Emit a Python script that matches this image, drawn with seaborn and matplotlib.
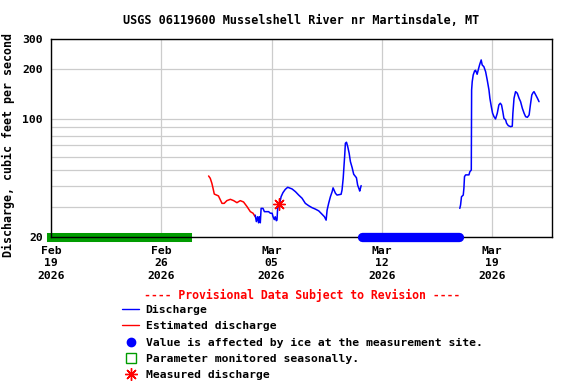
import pandas as pd
import seaborn as sns
import matplotlib.pyplot as plt
from matplotlib.lines import Line2D
from matplotlib.ticker import FixedLocator, NullFormatter

title = "USGS 06119600 Musselshell River nr Martinsdale, MT"

# estimated discharge (red)
est_times = ["2026-03-01 00:00", "2026-03-01 02:30", "2026-03-01 05:00", "2026-03-01 06:45",
             "2026-03-01 08:40", "2026-03-01 15:00", "2026-03-01 20:25", "2026-03-01 23:45",
             "2026-03-02 03:50", "2026-03-02 09:10", "2026-03-02 14:10", "2026-03-02 19:10",
             "2026-03-03 00:15", "2026-03-03 05:15", "2026-03-03 10:35", "2026-03-03 15:35",
             "2026-03-03 19:40", "2026-03-03 23:00"]
est_flow = [46.0, 44.6, 41.6, 38.9, 35.9, 35.0, 31.6, 31.6, 32.8, 33.4, 32.8, 31.9,
            32.8, 32.2, 30.2, 28.2, 27.6, 26.3]

# discharge, first stretch (blue)
q1_times = ["2026-03-03 23:00", "2026-03-04 00:45", "2026-03-04 02:40", "2026-03-04 04:05",
            "2026-03-04 05:15", "2026-03-04 06:45", "2026-03-04 08:00", "2026-03-04 10:50",
            "2026-03-04 13:00", "2026-03-04 19:25", "2026-03-04 22:05", "2026-03-05 00:45",
            "2026-03-05 02:10", "2026-03-05 04:05", "2026-03-05 05:30", "2026-03-05 07:10",
            "2026-03-05 08:10", "2026-03-05 09:10", "2026-03-05 12:15", "2026-03-05 14:25",
            "2026-03-05 17:15", "2026-03-05 20:50", "2026-03-06 00:30", "2026-03-06 07:10",
            "2026-03-06 12:15", "2026-03-06 17:15", "2026-03-06 22:20", "2026-03-07 03:20",
            "2026-03-07 08:25", "2026-03-07 13:25", "2026-03-07 18:40", "2026-03-07 23:45",
            "2026-03-08 04:50", "2026-03-08 08:25", "2026-03-08 11:00", "2026-03-08 12:30",
            "2026-03-08 14:50", "2026-03-08 17:30", "2026-03-08 20:10", "2026-03-08 21:35",
            "2026-03-09 01:10", "2026-03-09 03:35", "2026-03-09 09:50", "2026-03-09 11:15",
            "2026-03-09 13:00", "2026-03-09 15:20", "2026-03-09 16:20", "2026-03-09 18:00",
            "2026-03-09 19:55", "2026-03-09 22:05", "2026-03-10 00:00", "2026-03-10 02:40",
            "2026-03-10 05:00", "2026-03-10 09:10", "2026-03-10 11:00", "2026-03-10 13:10",
            "2026-03-10 14:10", "2026-03-10 16:20"]
q1_flow = [26.9, 24.6, 26.3, 24.2, 26.3, 24.2, 29.5, 29.5, 28.2, 28.2, 27.6, 27.6,
           26.3, 25.3, 26.3, 24.9, 25.1, 29.5, 31.6, 34.6, 36.6, 38.3, 39.4, 38.5,
           37.1, 35.4, 33.9, 31.6, 30.6, 29.8, 29.2, 28.5, 27.2, 26.3, 25.1, 28.8,
           31.6, 34.6, 37.1, 39.1, 36.3, 35.4, 35.8, 38.0, 44.6, 61.4, 72.1, 73.1,
           68.8, 62.8, 56.0, 51.5, 47.1, 44.9, 40.6, 38.5, 37.4, 40.3]

# discharge, second stretch (blue)
q2_times = ["2026-03-16 22:35", "2026-03-16 23:45", "2026-03-17 01:10", "2026-03-17 03:50",
            "2026-03-17 04:50", "2026-03-17 05:45", "2026-03-17 07:25", "2026-03-17 12:30",
            "2026-03-17 13:55", "2026-03-17 16:05", "2026-03-17 16:35", "2026-03-17 17:30",
            "2026-03-17 19:00", "2026-03-17 21:05", "2026-03-17 22:35", "2026-03-18 01:00",
            "2026-03-18 03:20", "2026-03-18 05:00", "2026-03-18 07:10", "2026-03-18 08:40",
            "2026-03-18 11:15", "2026-03-18 13:55", "2026-03-18 16:20", "2026-03-18 19:00",
            "2026-03-18 20:25", "2026-03-18 22:35", "2026-03-19 00:30", "2026-03-19 02:40",
            "2026-03-19 05:00", "2026-03-19 07:40", "2026-03-19 10:05", "2026-03-19 12:15",
            "2026-03-19 14:10", "2026-03-19 16:05", "2026-03-19 17:45", "2026-03-19 20:25",
            "2026-03-19 21:50", "2026-03-20 00:30", "2026-03-20 04:05", "2026-03-20 06:30",
            "2026-03-20 07:25", "2026-03-20 09:10", "2026-03-20 11:30", "2026-03-20 14:10",
            "2026-03-20 16:50", "2026-03-20 19:10", "2026-03-20 21:50", "2026-03-21 00:30",
            "2026-03-21 02:50", "2026-03-21 05:30", "2026-03-21 08:10", "2026-03-21 10:05",
            "2026-03-21 12:15", "2026-03-21 14:10", "2026-03-21 15:35", "2026-03-21 18:15",
            "2026-03-21 20:50", "2026-03-21 23:15"]
q2_flow = [29.5, 30.9, 34.6, 35.4, 38.9, 45.6, 46.7, 46.7, 48.8, 49.9, 149.7, 167.8,
           183.9, 194.3, 196.2, 185.7, 201.7, 213.1, 226.0, 211.0, 206.0, 192.3, 171.8, 149.7,
           133.6, 119.0, 108.8, 103.8, 100.6, 108.8, 121.9, 124.8, 121.9, 111.2, 101.5, 99.2,
           94.8, 91.7, 90.5, 91.1, 108.8, 133.6, 146.3, 143.1, 133.6, 127.5, 116.4, 108.8,
           103.8, 102.9, 106.3, 121.9, 139.8, 144.3, 146.3, 139.8, 133.6, 127.5]

meas_time = ["2026-03-05 10:50"]
meas_flow = [31.2]

# periods drawn along the bottom of the plot
ice_period = ["2026-03-10 17:00", "2026-03-16 22:00"]
season_period = ["2026-02-19 00:00", "2026-02-27 14:30"]

x_ticks = ["2026-02-19", "2026-02-26", "2026-03-05", "2026-03-12", "2026-03-19"]
x_labels = ["Feb\n19\n2026", "Feb\n26\n2026", "Mar\n05\n2026", "Mar\n12\n2026", "Mar\n19\n2026"]
y_ticks = [20, 100, 200, 300]
y_minor = [30, 40, 50, 60, 70, 80, 90]

BLUE = "#0000ff"
RED = "#ff0000"
GREEN = "#009c00"

sns.set_theme(style="white")
plt.rcParams["font.family"] = ["DejaVu Sans Mono"]
plt.rcParams["font.weight"] = "bold"
for key in ["text.color", "axes.labelcolor", "xtick.color", "ytick.color"]:
    plt.rcParams[key] = "black"

fig, ax = plt.subplots(figsize=(5.76, 3.84), dpi=100)
fig.subplots_adjust(left=51 / 576, right=552 / 576, top=1 - 39.3 / 384, bottom=1 - 236.7 / 384)

ax.set_yscale("log")

sns.lineplot(x=pd.to_datetime(est_times), y=est_flow, color=RED, lw=1.1, ax=ax)
sns.lineplot(x=pd.to_datetime(q1_times), y=q1_flow, color=BLUE, lw=1.1, ax=ax)
sns.lineplot(x=pd.to_datetime(q2_times), y=q2_flow, color=BLUE, lw=1.1, ax=ax)

# ice-affected and seasonal bands at the floor of the plot
sns.lineplot(x=pd.to_datetime(ice_period), y=[20, 20], color=BLUE, lw=6.7,
             solid_capstyle="round", clip_on=False, zorder=5, ax=ax)
sns.lineplot(x=pd.to_datetime(season_period), y=[20, 20], color=GREEN, lw=6.5,
             solid_capstyle="projecting", clip_on=False, zorder=1, ax=ax)

sns.scatterplot(x=pd.to_datetime(meas_time), y=meas_flow, marker=(8, 2, 0), s=70,
                color=RED, linewidths=1.0, zorder=6, ax=ax)

ax.set_xlim(pd.Timestamp("2026-02-19 00:00"), pd.Timestamp("2026-03-22 19:00"))
ax.set_ylim(20, 300)

ax.set_xticks(pd.to_datetime(x_ticks))
ax.set_xticklabels(x_labels, linespacing=1.3)
ax.yaxis.set_major_locator(FixedLocator(y_ticks))
ax.set_yticklabels([str(v) for v in y_ticks])
ax.yaxis.set_minor_locator(FixedLocator(y_minor))
ax.yaxis.set_minor_formatter(NullFormatter())

ax.tick_params(axis="both", which="both", length=0, labelsize=8.2)
ax.tick_params(axis="y", pad=6)
ax.tick_params(axis="x", pad=6.5)

ax.grid(True, which="both", color="#cccccc", lw=0.9)
ax.set_axisbelow(True)
for s in ax.spines.values():
    s.set_color("black")
    s.set_linewidth(1.0)

ax.set_xlabel("")
ax.set_ylabel("Discharge, cubic feet per second", fontsize=8.4, fontweight="bold")
ax.yaxis.set_label_coords(-0.071, 0.465)
ax.set_title(title, fontsize=8.5, fontweight="bold", pad=11)

fig.text(0.524, 1 - 295 / 384, "---- Provisional Data Subject to Revision ----",
         color=RED, fontsize=8.3, fontweight="bold", ha="center", va="center")

handles = [
    Line2D([], [], color=BLUE, lw=1.0),
    Line2D([], [], color=RED, lw=1.0),
    Line2D([], [], color=BLUE, marker="o", ls="none", markersize=6),
    Line2D([], [], color=GREEN, marker="s", ls="none", markersize=7,
           markerfacecolor="none", markeredgewidth=1.0),
    Line2D([], [], color=RED, marker=(8, 2, 0), ls="none", markersize=9,
           markeredgewidth=1.0),
]
labels = ["Discharge", "Estimated discharge",
          "Value is affected by ice at the measurement site.",
          "Parameter monitored seasonally.", "Measured discharge"]
fig.legend(handles, labels, loc="upper left", bbox_to_anchor=(121.7 / 576, 1 - 305 / 384),
           frameon=False, fontsize=8.2, borderpad=0, borderaxespad=0,
           handlelength=1.55, handletextpad=0.55, labelspacing=0.55)

fig.savefig("out.png", dpi=100)
